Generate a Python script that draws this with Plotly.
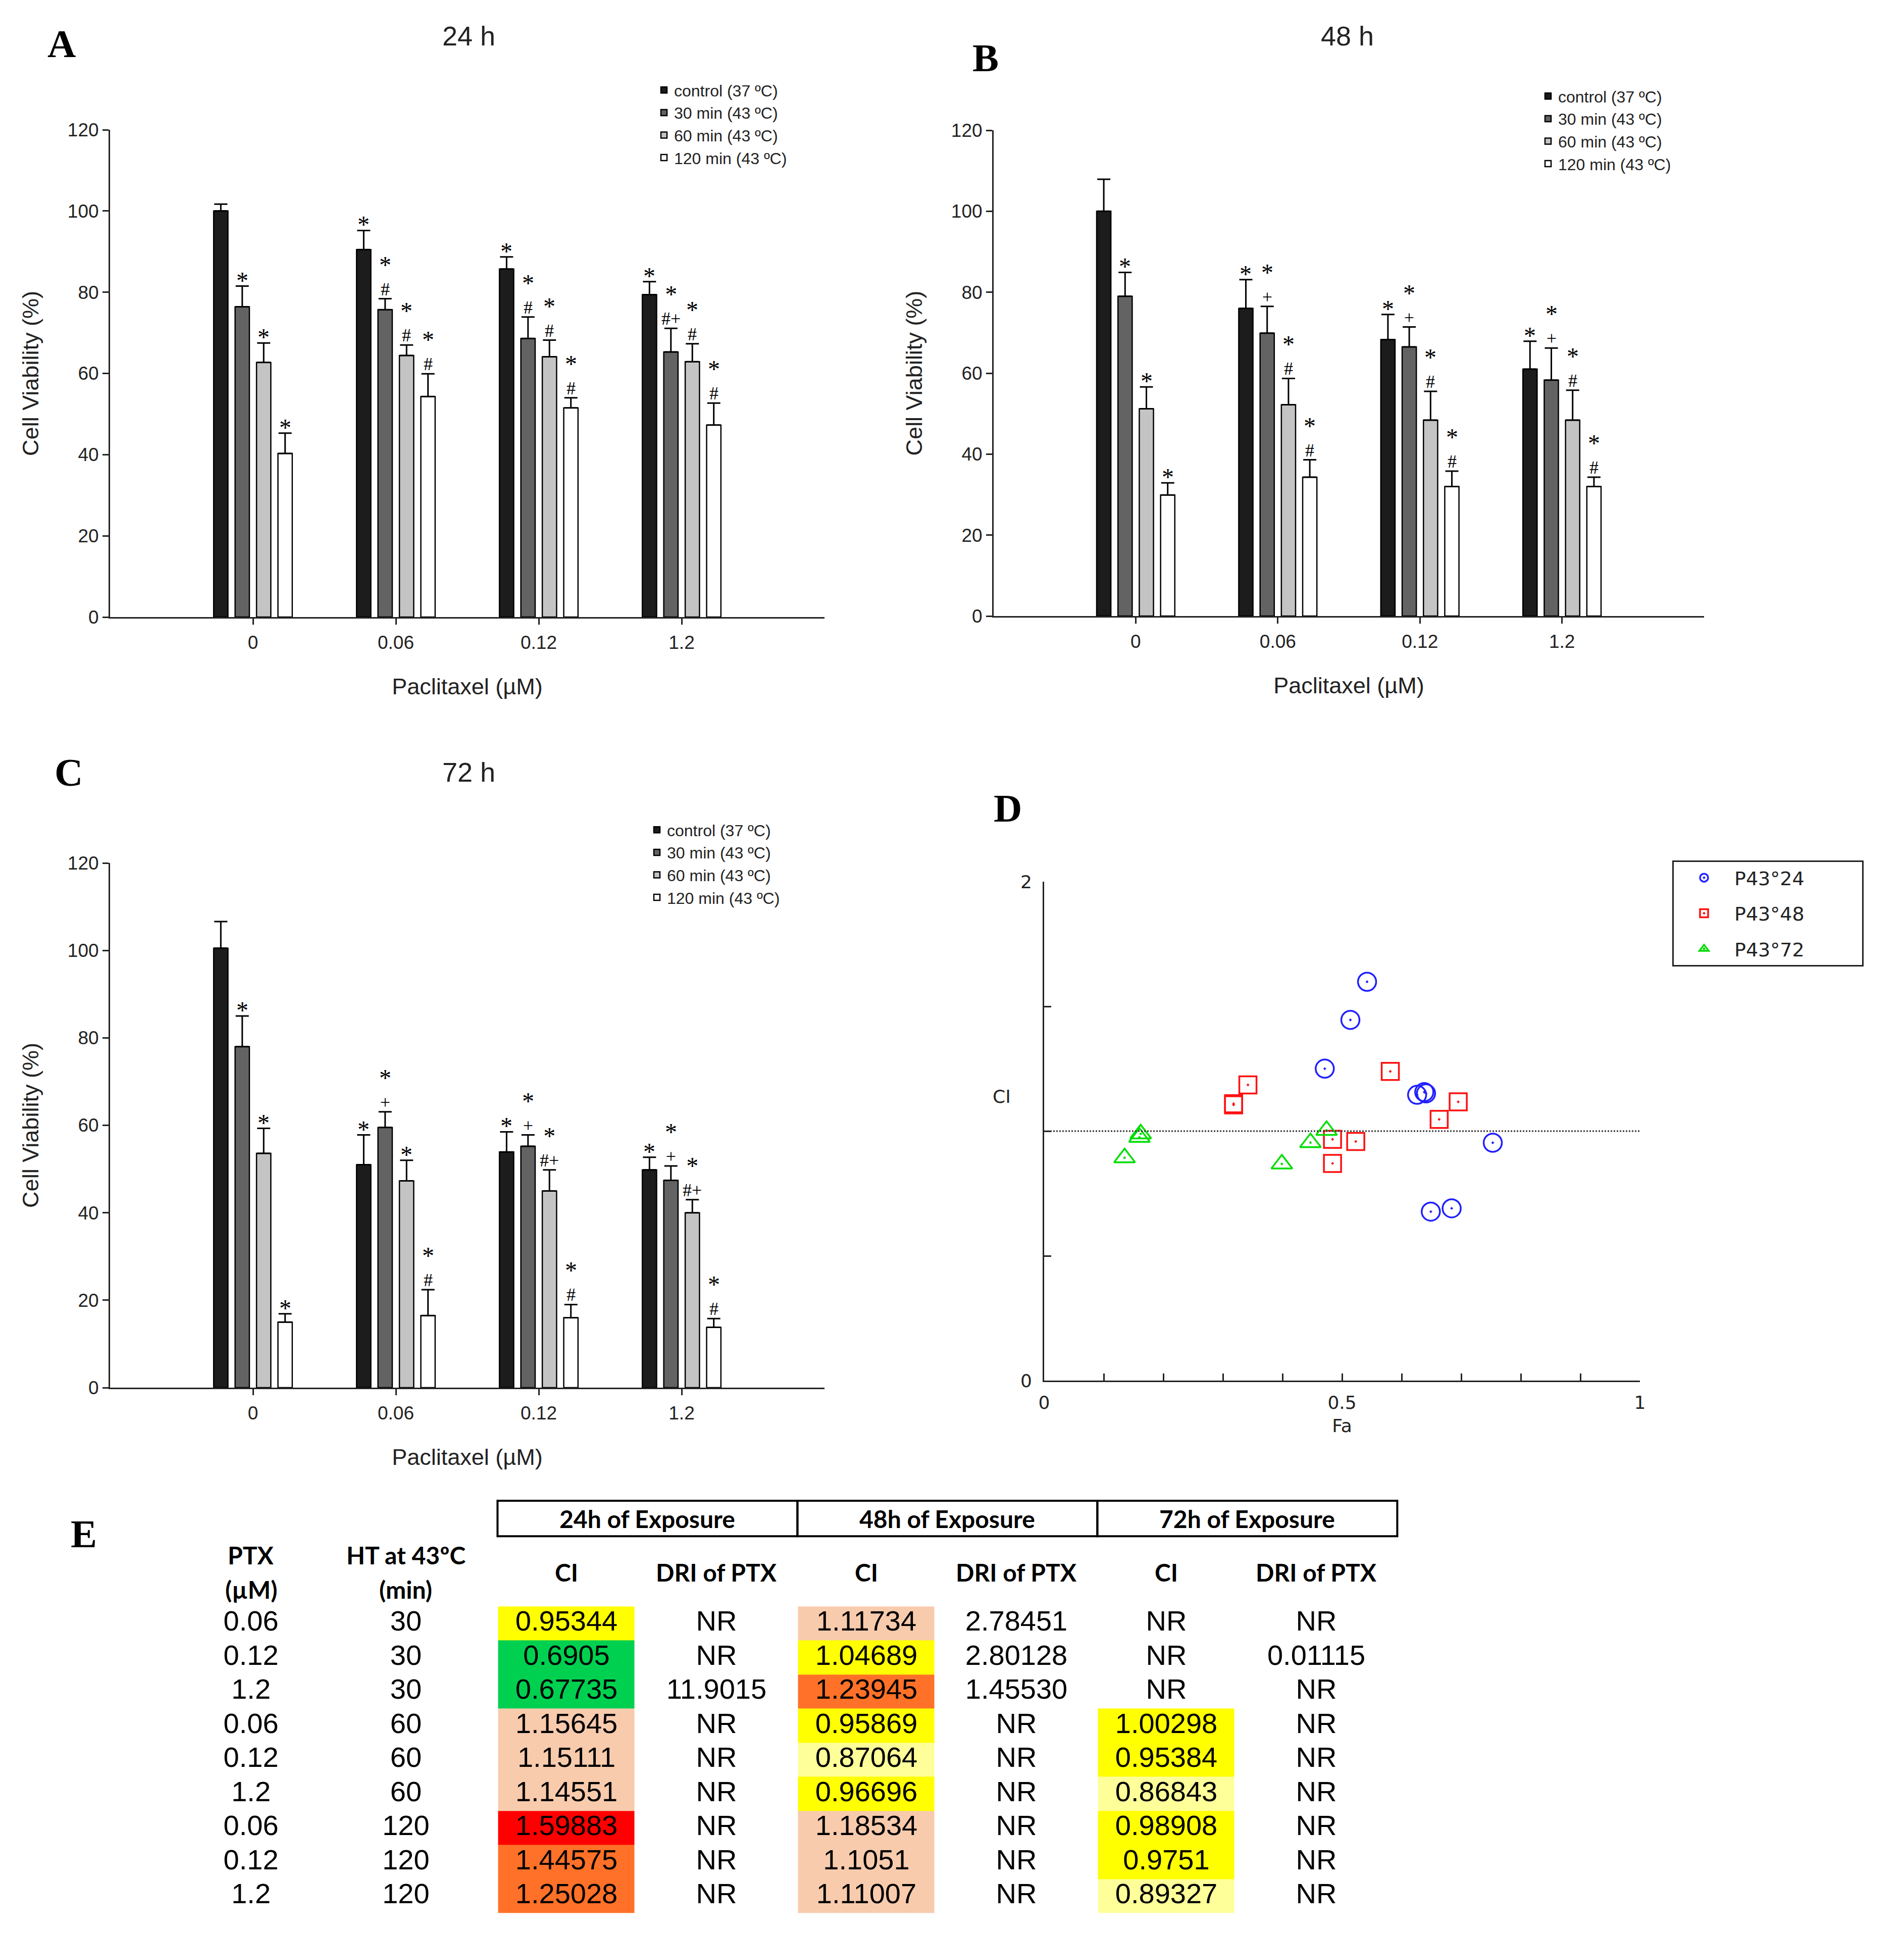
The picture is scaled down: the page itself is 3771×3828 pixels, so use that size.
# Cell viability after paclitaxel + hyperthermia, CI plot and CI/DRI table
import plotly.graph_objects as go

# ---------------- data: bar panels A-C ----------------
doses = ["0", "0.06", "0.12", "1.2"]
groups = ["control (37 ºC)", "30 min (43 ºC)", "60 min (43 ºC)", "120 min (43 ºC)"]

# viability (%) per group [group][dose]
via_24h = [
    [100.0, 90.5, 85.7, 79.4],
    [76.4, 75.7, 68.6, 65.3],
    [62.7, 64.4, 64.1, 62.9],
    [40.3, 54.3, 51.5, 47.3],
]
err_24h = [
    [1.7, 4.7, 3.0, 3.2],
    [5.1, 2.7, 5.3, 5.8],
    [4.8, 2.6, 4.1, 4.4],
    [5.0, 5.6, 2.5, 5.4],
]
sig_24h = [
    ["", "*", "*", "*"],
    ["*", "*/#", "*/#", "*/#+"],
    ["*", "*/#", "*/#", "*/#"],
    ["*", "*/#", "*/#", "*/#"],
]

via_48h = [
    [100.0, 76.0, 68.3, 61.0],
    [79.0, 69.9, 66.5, 58.3],
    [51.2, 52.2, 48.4, 48.4],
    [29.9, 34.3, 32.0, 32.0],
]
err_48h = [
    [7.9, 7.1, 6.2, 6.9],
    [5.9, 6.6, 4.9, 7.9],
    [5.4, 6.5, 7.1, 7.4],
    [3.0, 4.3, 3.8, 2.3],
]
sig_48h = [
    ["", "*", "*", "*"],
    ["*", "*/+", "*/+", "*/+"],
    ["*", "*/#", "*/#", "*/#"],
    ["*", "*/#", "*/#", "*/#"],
]

via_72h = [
    [100.5, 51.0, 53.9, 49.8],
    [78.0, 59.5, 55.2, 47.4],
    [53.6, 47.3, 45.0, 40.0],
    [15.0, 16.5, 16.0, 13.8],
]
err_72h = [
    [6.1, 6.8, 4.6, 2.9],
    [7.0, 3.6, 2.6, 3.3],
    [5.7, 4.7, 4.8, 3.0],
    [1.9, 5.9, 3.0, 2.0],
]
sig_72h = [
    ["", "*", "*", "*"],
    ["*", "*/+", "*/+", "*/+"],
    ["*", "*", "*/#+", "*/#+"],
    ["*", "*/#", "*/#", "*/#"],
]

# ---------------- data: table E / panel D ----------------
ptx = ["0.06", "0.12", "1.2", "0.06", "0.12", "1.2", "0.06", "0.12", "1.2"]
ht_min = ["30", "30", "30", "60", "60", "60", "120", "120", "120"]
ci_24h = [0.95344, 0.6905, 0.67735, 1.15645, 1.15111, 1.14551, 1.59883, 1.44575, 1.25028]
dri_24h = ["NR", "NR", "11.9015", "NR", "NR", "NR", "NR", "NR", "NR"]
ci_48h = [1.11734, 1.04689, 1.23945, 0.95869, 0.87064, 0.96696, 1.18534, 1.1051, 1.11007]
dri_48h = ["2.78451", "2.80128", "1.45530", "NR", "NR", "NR", "NR", "NR", "NR"]
ci_72h = [None, None, None, 1.00298, 0.95384, 0.86843, 0.98908, 0.9751, 0.89327]
dri_72h = ["NR", "0.01115", "NR", "NR", "NR", "NR", "NR", "NR", "NR"]

# Fa, same row order as the table
fa_24h = [0.753, 0.684, 0.649, 0.638, 0.641, 0.626, 0.542, 0.514, 0.471]
fa_48h = [0.695, 0.663, 0.581, 0.523, 0.484, 0.484, 0.342, 0.318, 0.318]
fa_72h = [None, None, None, 0.474, 0.447, 0.399, 0.162, 0.160, 0.135]

# ---------------- styles ----------------
BAR_COLORS = ["#1c1c1c", "#636363", "#c4c4c4", "#ffffff"]
BAR_W = 0.1
BAR_CENTERS = [-0.225, -0.075, 0.075, 0.225]
SANS = "Liberation Sans"
SERIF = "Liberation Serif"
# Chou-Talalay bins and cell colours
CI_BINS = [0.85, 0.9, 1.1, 1.2, 1.45]
CI_COLORS = ["#00d050", "#ffff99", "#ffff00", "#f8cbad", "#ff7128", "#ff0000"]

W, H = 3771, 3828
fig = go.Figure()
annotations = []


def px(x, y):
    return x / W, 1 - y / H


def paper_text(x, y, text, font):
    lx, ly = px(x, y)
    annotations.append(dict(x=lx, y=ly, xref="paper", yref="paper", text=text, showarrow=False,
                            xanchor="center", yanchor="middle", font=font))


STAR = "<span style='font-size:48px'>*</span>"


def bar_panel(n, via, err, sig, legend, xdom, ydom):
    xa = "x" if n == 1 else "x%d" % n
    ya = "y" if n == 1 else "y%d" % n
    for g in range(len(groups)):
        fig.add_trace(go.Bar(
            x=list(range(len(doses))), y=via[g], name=groups[g],
            width=BAR_W, offset=BAR_CENTERS[g] - BAR_W / 2,
            marker=dict(color=BAR_COLORS[g], line=dict(color="black", width=2.5)),
            error_y=dict(type="data", symmetric=False, array=err[g],
                         arrayminus=[0] * len(doses), color="black", thickness=3, width=13),
            xaxis=xa, yaxis=ya, legend=legend, legendgroup=groups[g], showlegend=True,
        ))
        # significance marks above the error bars
        for k in range(len(doses)):
            if not sig[g][k]:
                continue
            parts = sig[g][k].split("/")
            text, shift = STAR, -16
            if len(parts) > 1:
                text += "<br><span style='font-size:36px'>%s</span>" % parts[1]
                shift = -2
            annotations.append(dict(
                x=k + BAR_CENTERS[g], y=via[g][k] + err[g][k], xref=xa, yref=ya,
                text=text, showarrow=False, xanchor="center", yanchor="bottom",
                yshift=shift, borderpad=0,
                font=dict(family=SERIF, size=34, color="black"),
            ))
    axis_font = dict(family=SANS, size=37, color="#222")
    fig.update_layout(**{
        ("xaxis" if n == 1 else "xaxis%d" % n): dict(
            domain=xdom, range=[-1, 4], tickvals=list(range(len(doses))), ticktext=doses,
            ticks="outside", ticklen=12, tickwidth=3, tickcolor="#222",
            showline=True, linewidth=3, linecolor="#222", showgrid=False, zeroline=False,
            tickfont=axis_font, ticklabelstandoff=4, anchor=ya, automargin=False,
            title=dict(text="Paclitaxel (µM)", font=dict(family=SANS, size=45, color="#222"),
                       standoff=52),
        ),
        ("yaxis" if n == 1 else "yaxis%d" % n): dict(
            domain=ydom, range=[0, 120], dtick=20,
            ticks="outside", ticklen=12, tickwidth=3, tickcolor="#222",
            showline=True, linewidth=3, linecolor="#222", showgrid=False, zeroline=False,
            tickfont=axis_font, anchor=xa, automargin=False,
            title=dict(text="Cell Viability (%)", font=dict(family=SANS, size=45, color="#222"),
                       standoff=44),
        ),
    })


bar_panel(1, via_24h, err_24h, sig_24h, "legend",
          [210 / W, 1625 / W], [1 - 1214 / H, 1 - 249 / H])
bar_panel(2, via_48h, err_48h, sig_48h, "legend2",
          [1960 / W, 3367 / W], [1 - 1212 / H, 1 - 250 / H])
bar_panel(3, via_72h, err_72h, sig_72h, "legend3",
          [210 / W, 1625 / W], [1 - 2740 / H, 1 - 1701 / H])

# ---------------- panel D: CI vs Fa ----------------
series_d = [
    ("P43°24", fa_24h, ci_24h, "circle-open-dot", "#2020ff", 36),
    ("P43°48", fa_48h, ci_48h, "square-open-dot", "#ff1010", 34),
    ("P43°72", fa_72h, ci_72h, "triangle-up-open-dot", "#00dd00", 36),
]
for name, fa, ci, sym, col, size in series_d:
    pts = [(a, b) for a, b in zip(fa, ci) if b is not None]
    fig.add_trace(go.Scatter(
        x=[p[0] for p in pts], y=[p[1] for p in pts], mode="markers",
        name=name + "\u00a0" * 9,
        marker=dict(symbol=sym, size=size, color=col, line=dict(color=col, width=3.5)),
        xaxis="x4", yaxis="y4", legend="legend4", legendgroup=name, cliponaxis=False,
    ))

d_font = dict(family="DejaVu Sans", size=36, color="#222")
fig.update_layout(
    xaxis4=dict(domain=[2060 / W, 3240 / W], range=[0, 1], anchor="y4",
                tickvals=[i / 10 for i in range(11)],
                ticktext=["0", "", "", "", "", "0.5", "", "", "", "", "1"],
                ticks="inside", ticklen=14, tickwidth=3, tickcolor="#222",
                showline=True, linewidth=3, linecolor="#222", showgrid=False, zeroline=False,
                tickfont=d_font, ticklabelstandoff=10, automargin=False,
                title=dict(text="Fa", font=d_font, standoff=14)),
    yaxis4=dict(domain=[1 - 2726 / H, 1 - 1738 / H], range=[0, 2], anchor="x4",
                tickvals=[0, 0.5, 1, 1.5, 2], ticktext=["0", "", "", "", "2"],
                ticks="inside", ticklen=14, tickwidth=3, tickcolor="#222",
                showline=True, linewidth=3, linecolor="#222", showgrid=False, zeroline=False,
                tickfont=d_font, ticklabelstandoff=14, automargin=False),
)
fig.add_shape(type="line", xref="x4", yref="y4", x0=0, x1=1, y0=1, y1=1,
              line=dict(color="#333", width=3, dash="dot"))
paper_text(1976, 2163, "CI", d_font)

# ---------------- table E ----------------
# table axes: x in column units (CI 24h = 0), y in row units (first data row = 0)
COL_X = [-2.104, -1.071, 0, 1, 2, 3, 4, 5]
columns = [ptx, ht_min, ci_24h, dri_24h, ci_48h, dri_48h, ci_72h, dri_72h]


def ci_code(v):
    if v is None:
        return None
    return sum(1 for b in CI_BINS if v >= b)


z = [[ci_code(ci_24h[r]), None, ci_code(ci_48h[r]), None, ci_code(ci_72h[r]), None]
     for r in range(len(ptx))]
n_col = len(CI_COLORS)
scale = []
for i, c in enumerate(CI_COLORS):
    scale += [[i / n_col, c], [(i + 1) / n_col, c]]
fig.add_trace(go.Heatmap(
    z=z, x=list(range(6)), y=list(range(len(ptx))), colorscale=scale,
    zmin=-0.5, zmax=n_col - 0.5, showscale=False, xgap=27, ygap=0,
    hoverinfo="skip", xaxis="x5", yaxis="y5",
))

tx, ty, tt = [], [], []
for c, col in enumerate(columns):
    for r, v in enumerate(col):
        tx.append(COL_X[c])
        ty.append(r)
        tt.append("NR" if v is None else str(v))
fig.add_trace(go.Scatter(
    x=tx, y=ty, text=tt, mode="text", textposition="middle center",
    textfont=dict(family=SANS, size=56, color="black"),
    xaxis="x5", yaxis="y5", showlegend=False, hoverinfo="skip", cliponaxis=False,
))

fig.update_layout(
    xaxis5=dict(domain=[0, 1], range=[-1114 / 297, (W - 1114) / 297], anchor="y5",
                visible=False, fixedrange=True),
    yaxis5=dict(domain=[0, 1 - 2900 / H], range=[9.2, -4.55], anchor="x5",
                visible=False, fixedrange=True),
)

head_font = dict(family="Lato", size=48, color="black")


def table_text(x, y, text):
    annotations.append(dict(x=x, y=y, xref="x5", yref="y5", showarrow=False,
                            xanchor="center", yanchor="middle",
                            text="<b>%s</b>" % text, font=head_font))


for g, label in enumerate(["24h of Exposure", "48h of Exposure", "72h of Exposure"]):
    x0 = 2 * g - 0.46
    fig.add_shape(type="rect", xref="x5", yref="y5", x0=x0, x1=x0 + 2, y0=-3.6, y1=-2.56,
                  line=dict(color="black", width=4))
    table_text(2 * g + 0.54, -3.08, label)
    table_text(2 * g, -1.51, "CI")
    table_text(2 * g + 1, -1.51, "DRI of PTX")
for c, (top, bottom) in enumerate([("PTX", "(µM)"), ("HT at 43ºC", "(min)")]):
    table_text(COL_X[c], -2.01, top)
    table_text(COL_X[c], -1.0, bottom)

# ---------------- panel letters and titles ----------------
for letter, (x, y) in zip("ABCDE", [(114, 78), (1944, 106), (128, 1521), (1988, 1592), (158, 3029)]):
    paper_text(x, y, "<b>%s</b>" % letter, dict(family=SERIF, size=78, color="black"))
for title, (x, y) in zip(["24 h", "48 h", "72 h"], [(920, 63), (2660, 63), (920, 1521)]):
    paper_text(x, y, title, dict(family=SANS, size=54, color="#222"))

leg = dict(font=dict(family=SANS, size=32, color="#222"), bgcolor="rgba(0,0,0,0)",
           xanchor="left", yanchor="top", tracegroupgap=0, itemclick=False)
fig.update_layout(
    width=W, height=H, margin=dict(l=0, r=0, t=0, b=0),
    paper_bgcolor="white", plot_bgcolor="white",
    barmode="overlay",
    legend=dict(leg, x=1287 / W, y=1 - 143 / H),
    legend2=dict(leg, x=3038 / W, y=1 - 155 / H),
    legend3=dict(leg, x=1273 / W, y=1 - 1608 / H),
    legend4=dict(font=dict(family="DejaVu Sans", size=38, color="#222"), bgcolor="white",
                 bordercolor="#222", borderwidth=3, x=3304 / W, y=1 - 1696 / H,
                 xanchor="left", yanchor="top", itemsizing="trace", tracegroupgap=18,
                 itemwidth=110),
    annotations=annotations,
)

fig.write_html("out.html")
